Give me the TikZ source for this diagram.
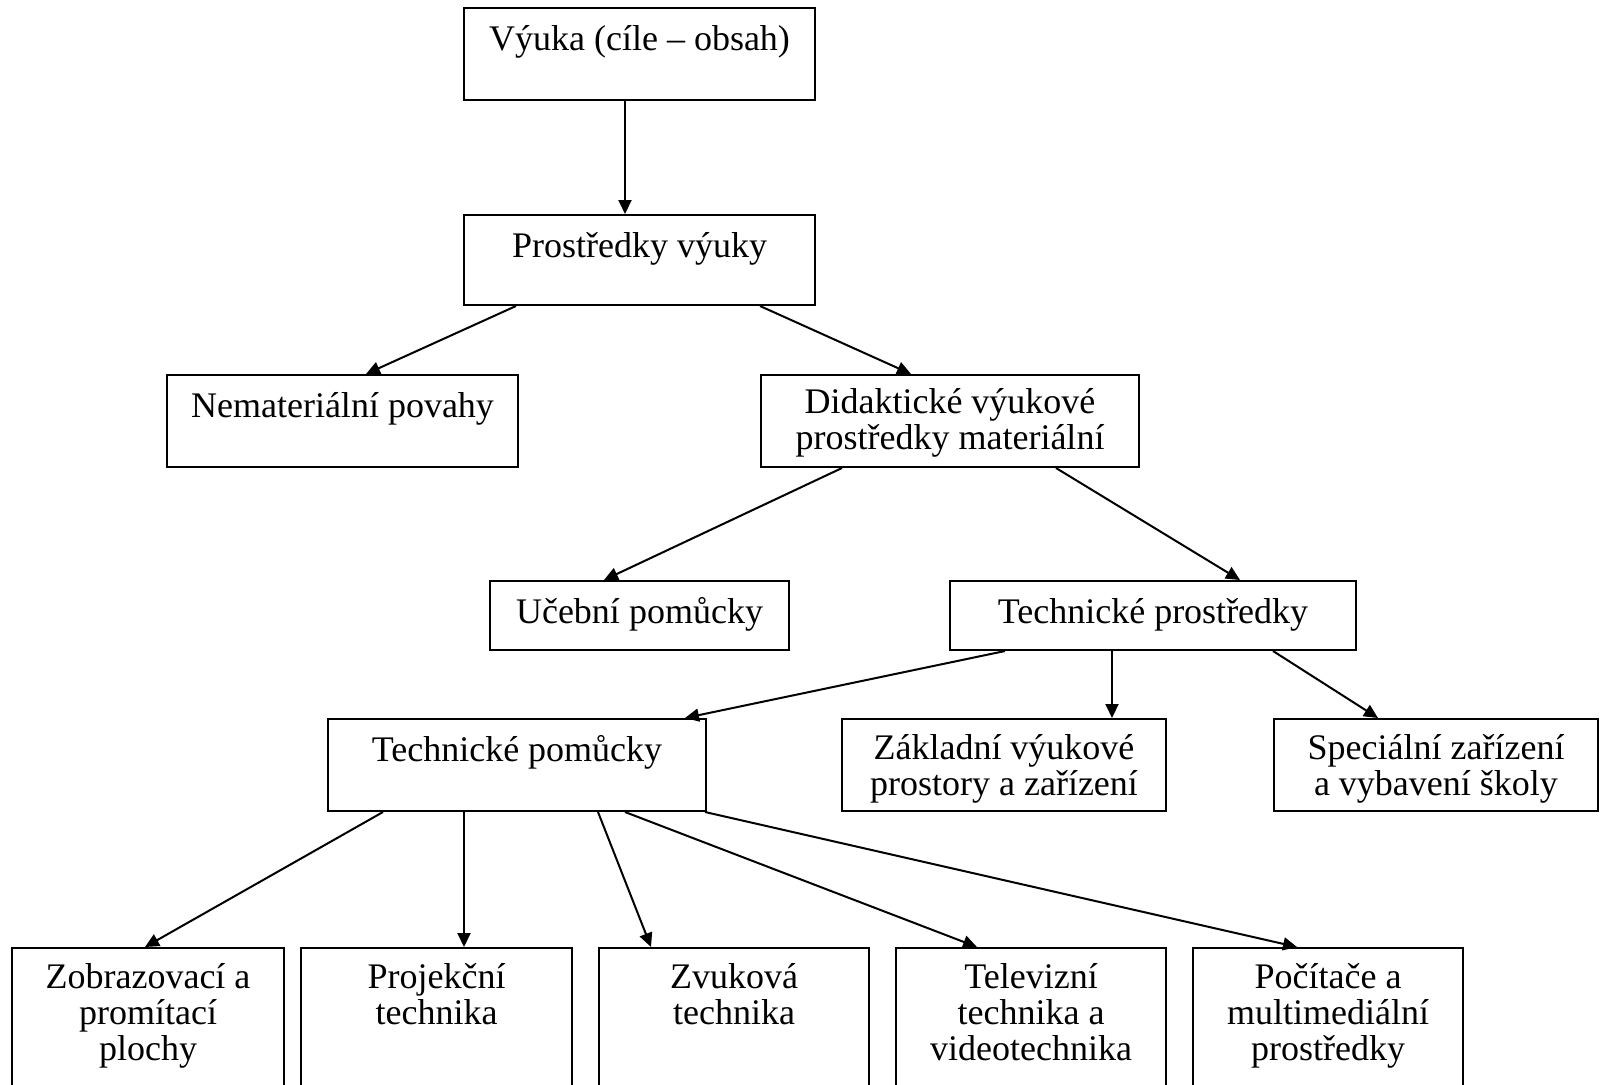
\documentclass[tikz,border=0pt]{standalone}
\usepackage{fontspec}
\setmainfont{Liberation Serif}
\usetikzlibrary{arrows.meta}
\newcommand{\fl}{\rule{0pt}{33pt}}
\tikzset{
  box/.style={draw=black, line width=2pt, fill=white, inner sep=0pt, rectangle},
  txt/.style={anchor=north, inner sep=0pt, align=center, font=\fontsize{36}{36}\selectfont},
  conn/.style={line width=2pt, -{Triangle[length=14pt,width=13pt]}}
}
\begin{document}
\begin{tikzpicture}[x=1pt,y=-1pt]
\clip (0,0) rectangle (1602,1084);
\fill[white] (0,0) rectangle (1602,1084);
% boxes
\node[box, minimum width=351pt, minimum height=92pt] (a) at (639.5,54) {};
\node[box, minimum width=351pt, minimum height=90pt] (b) at (639.5,260) {};
\node[box, minimum width=351pt, minimum height=92pt] (c) at (342.5,421) {};
\node[box, minimum width=378pt, minimum height=92pt] (d) at (950,421) {};
\node[box, minimum width=299pt, minimum height=69pt] (e) at (639.5,615.5) {};
\node[box, minimum width=406pt, minimum height=69pt] (f) at (1153,615.5) {};
\node[box, minimum width=378pt, minimum height=92pt] (g) at (517,765) {};
\node[box, minimum width=324pt, minimum height=92pt] (h) at (1004,765) {};
\node[box, minimum width=324pt, minimum height=92pt] (i) at (1436,765) {};
\node[box, minimum width=272pt, minimum height=162pt] (j) at (148,1029) {};
\node[box, minimum width=271pt, minimum height=162pt] (k) at (436.5,1029) {};
\node[box, minimum width=270pt, minimum height=162pt] (l) at (734,1029) {};
\node[box, minimum width=270pt, minimum height=162pt] (m) at (1031,1029) {};
\node[box, minimum width=270pt, minimum height=162pt] (n) at (1328,1029) {};
% texts
\node[txt] (ta) at ([yshift=-10pt]a.north) {\fl Výuka (cíle – obsah)};
\node[txt] (tb) at ([yshift=-10pt]b.north) {\fl Prostředky výuky};
\node[txt] (tc) at ([yshift=-10pt]c.north) {\fl Nemateriální povahy};
\node[txt] (td) at ([yshift=-6pt]d.north) {\fl Didaktické výukové\\prostředky materiální};
\node[txt] (te) at ([yshift=-10pt]e.north) {\fl Učební pomůcky};
\node[txt] (tf) at ([yshift=-10pt]f.north) {\fl Technické prostředky};
\node[txt] (tg) at ([yshift=-10pt]g.north) {\fl Technické pomůcky};
\node[txt] (th) at ([yshift=-8pt]h.north) {\fl Základní výukové\\prostory a zařízení};
\node[txt] (ti) at ([yshift=-8pt]i.north) {\fl Speciální zařízení\\a vybavení školy};
\node[txt] (tj) at ([yshift=-8pt]j.north) {\fl Zobrazovací a\\promítací\\plochy};
\node[txt] (tk) at ([yshift=-8pt]k.north) {\fl Projekční\\technika};
\node[txt] (tl) at ([yshift=-8pt]l.north) {\fl Zvuková\\technika};
\node[txt] (tm) at ([yshift=-8pt]m.north) {\fl Televizní\\technika a\\videotechnika};
\node[txt] (tn) at ([yshift=-8pt]n.north) {\fl Počítače a\\multimediální\\prostředky};
% connectors
\draw[conn] ([xshift=162pt]a.south west) -- ([xshift=162pt]b.north west);
\draw[conn] ([xshift=53pt]b.south west) -- ([xshift=200pt]c.north west);
\draw[conn] ([xshift=297pt]b.south west) -- ([xshift=151pt]d.north west);
\draw[conn] ([xshift=82pt]d.south west) -- ([xshift=115pt]e.north west);
\draw[conn] ([xshift=296pt]d.south west) -- ([xshift=291pt]f.north west);
\draw[conn] ([xshift=56pt]f.south west) -- ([xshift=358pt]g.north west);
\draw[conn] ([xshift=163pt]f.south west) -- ([xshift=271pt]h.north west);
\draw[conn] ([xshift=324pt]f.south west) -- ([xshift=105pt]i.north west);
\draw[conn] ([xshift=56pt]g.south west) -- ([xshift=134pt]j.north west);
\draw[conn] ([xshift=137pt]g.south west) -- ([xshift=164pt]k.north west);
\draw[conn] ([xshift=271pt]g.south west) -- ([xshift=53pt]l.north west);
\draw[conn] ([xshift=298pt]g.south west) -- ([xshift=82pt]m.north west);
\draw[conn] ([xshift=378pt]g.south west) -- ([xshift=105pt]n.north west);
\end{tikzpicture}
\end{document}
